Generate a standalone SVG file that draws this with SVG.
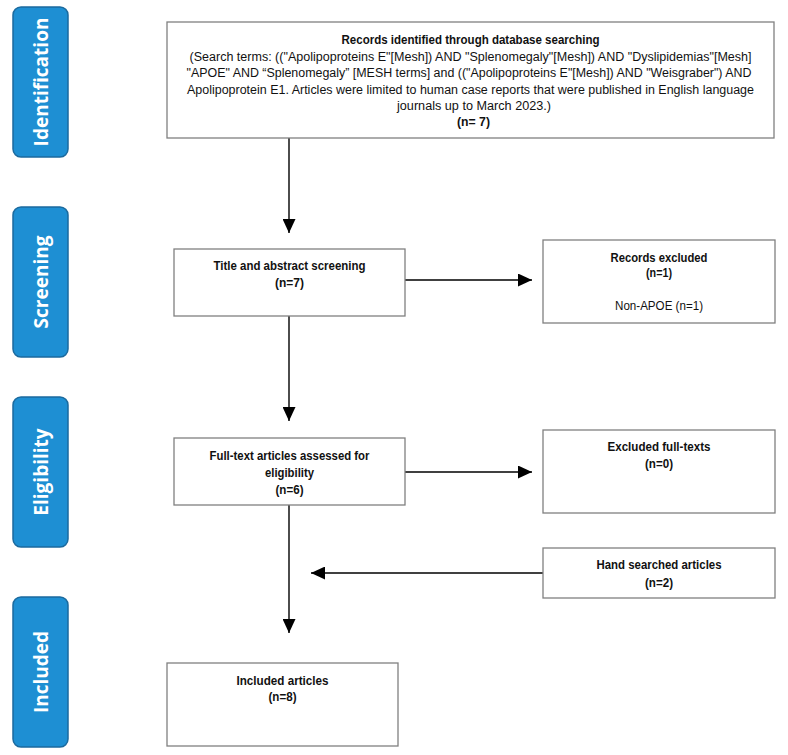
<svg xmlns="http://www.w3.org/2000/svg" width="788" height="755" viewBox="0 0 788 755">
<style>
.side{fill:#1E8FD3;stroke:#1B6A9E;stroke-width:1.5}
.sidet{font-family:"Open Sans","Liberation Sans",sans-serif;font-weight:bold;font-size:19px;fill:#ffffff;text-anchor:middle}
.box{fill:#ffffff;stroke:#808080;stroke-width:1.3}
.t{font-family:"Liberation Sans",Arial,sans-serif;font-size:12.5px;fill:#111111;text-anchor:middle}
.b{font-weight:bold}
.conn{stroke:#000000;stroke-width:1.4;fill:none;marker-end:url(#ah)}
</style>
<defs>
<marker id="ah" markerUnits="userSpaceOnUse" markerWidth="14" markerHeight="13" refX="14" refY="6.5" orient="auto">
<path d="M0,0 L14,6.5 L0,13 z" fill="#000000"/>
</marker>
</defs>
<rect width="788" height="755" fill="#ffffff"/>
<g id="phase-identification">
<rect class="side" x="13" y="7" width="55" height="150" rx="8"/>
<text class="sidet" transform="translate(47.5,82) rotate(-90)">Identification</text>
</g>
<g id="phase-screening">
<rect class="side" x="13" y="207" width="55" height="150" rx="8"/>
<text class="sidet" transform="translate(47.5,282) rotate(-90)">Screening</text>
</g>
<g id="phase-eligibility">
<rect class="side" x="13" y="397" width="55" height="150" rx="8"/>
<text class="sidet" transform="translate(47.5,472) rotate(-90)">Eligibility</text>
</g>
<g id="phase-included">
<rect class="side" x="13" y="597" width="55" height="150" rx="8"/>
<text class="sidet" transform="translate(47.5,672) rotate(-90)">Included</text>
</g>
<g id="connectors">
<line class="conn" x1="289" y1="138" x2="289" y2="233"/>
<line class="conn" x1="405" y1="280" x2="532" y2="280"/>
<line class="conn" x1="289" y1="316" x2="289" y2="421"/>
<line class="conn" x1="405" y1="472" x2="532" y2="472"/>
<line class="conn" x1="289" y1="505" x2="289" y2="633"/>
<line class="conn" x1="543" y1="573" x2="311" y2="573"/>
</g>
<g id="records-identified">
<rect class="box" x="167" y="22" width="607" height="116"/>
<text class="t b" x="470.5" y="44" textLength="258" lengthAdjust="spacingAndGlyphs">Records identified through database searching</text>
<text class="t" x="470.5" y="60.5" textLength="562" lengthAdjust="spacingAndGlyphs">(Search terms: (("Apolipoproteins E"[Mesh]) AND "Splenomegaly"[Mesh]) AND "Dyslipidemias"[Mesh]</text>
<text class="t" x="469" y="77" textLength="565" lengthAdjust="spacingAndGlyphs">"APOE" AND “Splenomegaly” [MESH terms] and (("Apolipoproteins E"[Mesh]) AND "Weisgraber") AND</text>
<text class="t" x="470.5" y="93.5" textLength="567" lengthAdjust="spacingAndGlyphs">Apolipoprotein E1. Articles were limited to human case reports that were published in English language</text>
<text class="t" x="474" y="110" textLength="154" lengthAdjust="spacingAndGlyphs">journals up to March 2023.)</text>
<text class="t b" x="473.5" y="126" textLength="33" lengthAdjust="spacingAndGlyphs">(n= 7)</text>
</g>
<g id="title-abstract-screening">
<rect class="box" x="174" y="249" width="231" height="67"/>
<text class="t b" x="289.5" y="270" textLength="152" lengthAdjust="spacingAndGlyphs">Title and abstract screening</text>
<text class="t b" x="289.5" y="287" textLength="29" lengthAdjust="spacingAndGlyphs">(n=7)</text>
</g>
<g id="records-excluded">
<rect class="box" x="543" y="240" width="232" height="83"/>
<text class="t b" x="659" y="262" textLength="97" lengthAdjust="spacingAndGlyphs">Records excluded</text>
<text class="t b" x="659" y="277" textLength="26" lengthAdjust="spacingAndGlyphs">(n=1)</text>
<text class="t" x="659" y="310" textLength="88" lengthAdjust="spacingAndGlyphs">Non-APOE (n=1)</text>
</g>
<g id="full-text-assessed">
<rect class="box" x="174" y="438" width="231" height="67"/>
<text class="t b" x="289.5" y="460" textLength="160" lengthAdjust="spacingAndGlyphs">Full-text articles assessed for</text>
<text class="t b" x="289.5" y="477" textLength="49" lengthAdjust="spacingAndGlyphs">eligibility</text>
<text class="t b" x="289.5" y="494" textLength="28" lengthAdjust="spacingAndGlyphs">(n=6)</text>
</g>
<g id="excluded-full-texts">
<rect class="box" x="543" y="430" width="232" height="83"/>
<text class="t b" x="659" y="451" textLength="103" lengthAdjust="spacingAndGlyphs">Excluded full-texts</text>
<text class="t b" x="659" y="468" textLength="28" lengthAdjust="spacingAndGlyphs">(n=0)</text>
</g>
<g id="hand-searched">
<rect class="box" x="543" y="548" width="232" height="50"/>
<text class="t b" x="659" y="569" textLength="125" lengthAdjust="spacingAndGlyphs">Hand searched articles</text>
<text class="t b" x="659" y="587" textLength="28" lengthAdjust="spacingAndGlyphs">(n=2)</text>
</g>
<g id="included-articles">
<rect class="box" x="167" y="663" width="231" height="83"/>
<text class="t b" x="282.5" y="685" textLength="92" lengthAdjust="spacingAndGlyphs">Included articles</text>
<text class="t b" x="282.5" y="701" textLength="28" lengthAdjust="spacingAndGlyphs">(n=8)</text>
</g>
</svg>
